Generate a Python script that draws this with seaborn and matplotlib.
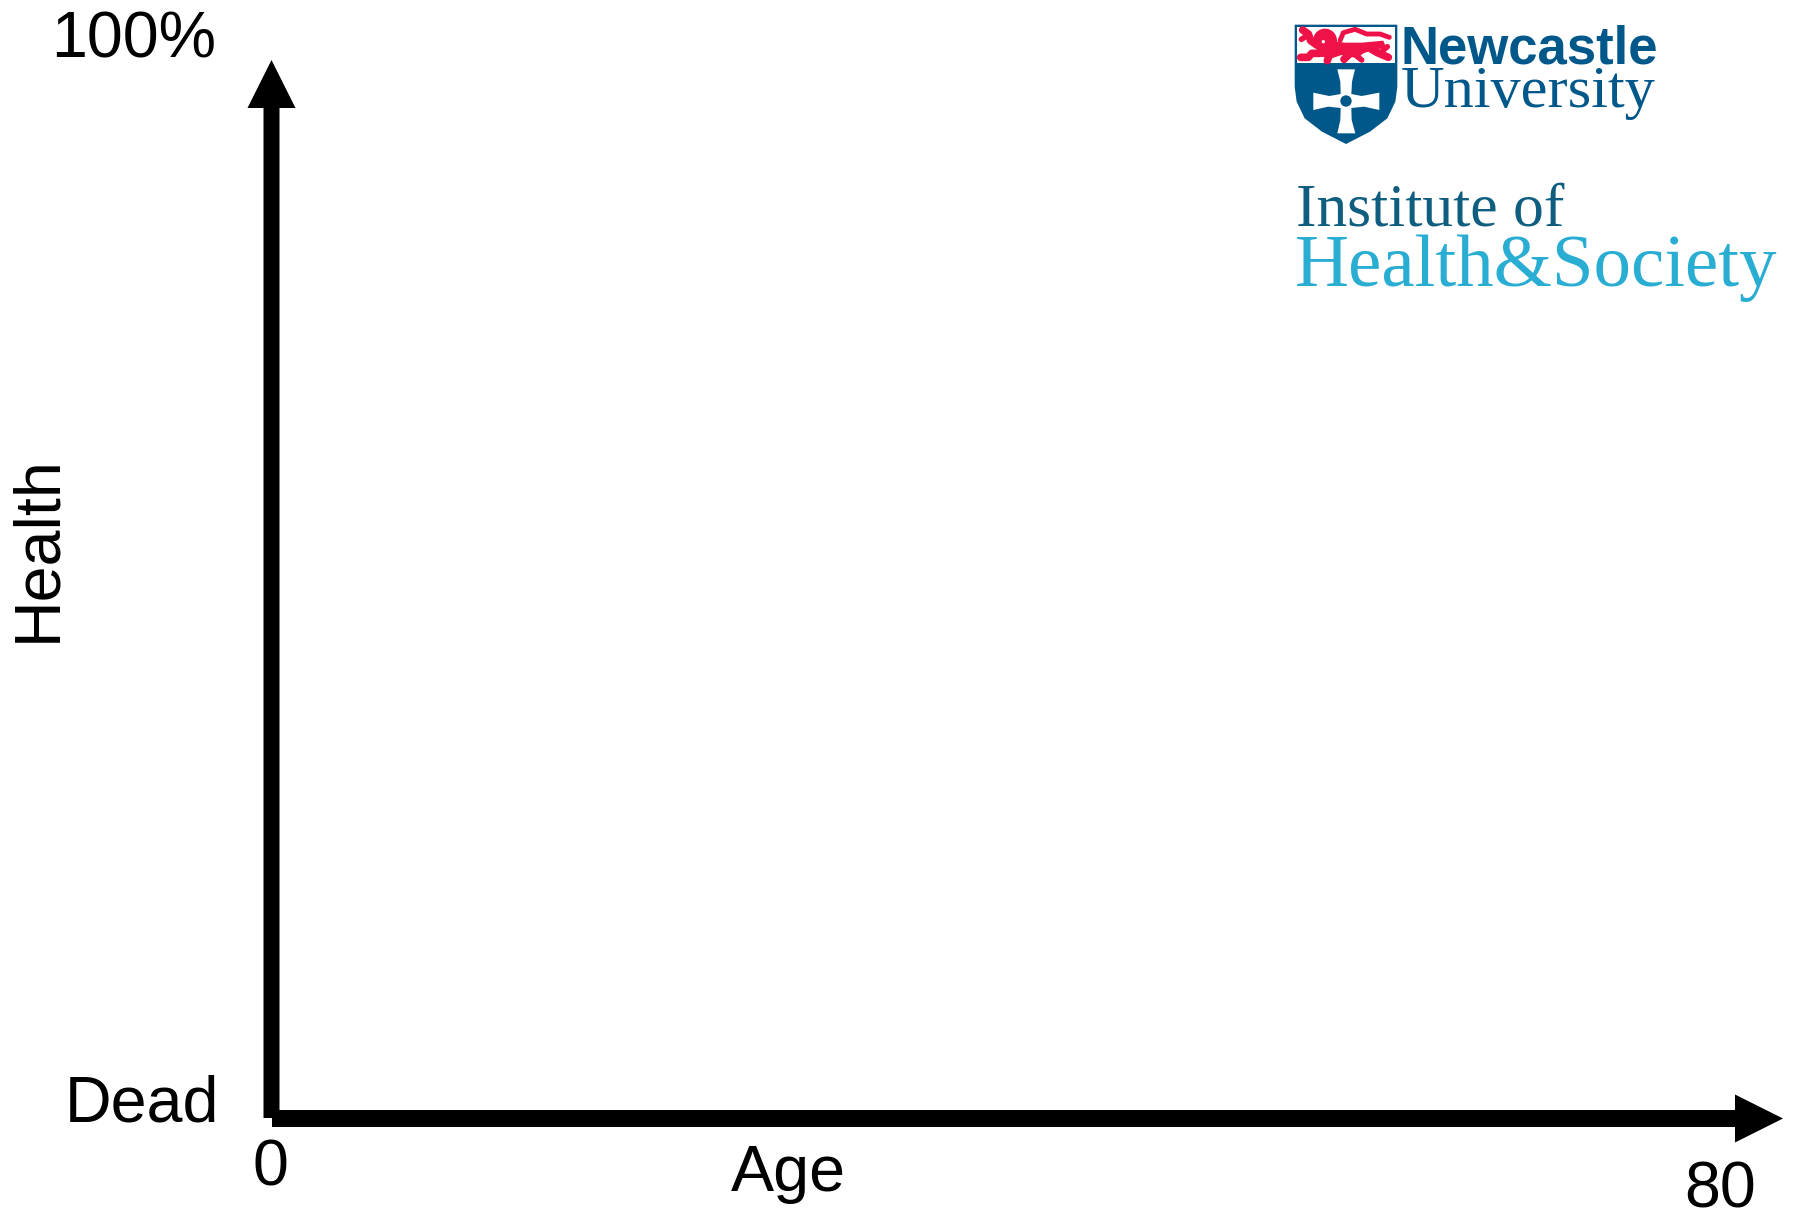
import matplotlib
matplotlib.use('Agg')
import matplotlib.pyplot as plt
from matplotlib.patches import Circle, FancyArrow, Polygon, Rectangle
import seaborn as sns

# Empty axes template: only end labels exist, no series
x_title = 'Age'
y_title = 'Health'
x_labels = ['0', '80']
y_labels = ['Dead', '100%']
logo_top = ['Newcastle', 'University']
logo_bottom = ['Institute of', 'Health&Society']

NAVY = '#00578a'
TEAL = '#0f5e80'
SKY = '#2aadd3'
RED = '#ee1248'

sns.set_theme(style='white')
plt.rcParams['font.family'] = ['Liberation Sans', 'DejaVu Sans']

fig, ax = plt.subplots(figsize=(17.94, 12.09), dpi=100)
ax.set_position([0, 0, 1, 1])
# axes work in reference pixels, y going down
ax.set_xlim(0, 1794)
ax.set_ylim(1209, 0)
ax.axis('off')
sns.despine(ax=ax, left=True, bottom=True)


def crop(points):
    # shield shapes were measured on a 3x crop starting at (1290, 20)
    return [(1290 + px / 3, 20 + py / 3) for px, py in points]


# axis arrows
ax.add_patch(FancyArrow(271.5, 1118, 0, -1058, width=16, head_width=48, head_length=48,
                        length_includes_head=True, color='black', lw=0))
ax.add_patch(FancyArrow(272, 1118.5, 1511, 0, width=17, head_width=48, head_length=48,
                        length_includes_head=True, color='black', lw=0))

# labels
label_size = 46.5
ax.text(134, 58, y_labels[1], fontsize=label_size, ha='center', va='baseline', color='black')
ax.text(142, 1122, y_labels[0], fontsize=label_size, ha='center', va='baseline', color='black')
ax.text(270, 1186, x_labels[0], fontsize=label_size, ha='center', va='baseline', color='black')
ax.text(1720, 1207, x_labels[1], fontsize=label_size, ha='center', va='baseline', color='black')
ax.text(788, 1191, x_title, fontsize=label_size, ha='center', va='baseline', color='black')
ax.text(38, 455, y_title, fontsize=label_size, ha='right', va='center', rotation=90,
        rotation_mode='anchor', color='black')

# shield
shield = [(14, 14), (322, 14), (322, 200), (316, 245), (292, 295), (240, 335), (168, 372),
          (96, 335), (44, 295), (20, 245), (14, 200)]
ax.add_patch(Polygon(crop(shield), closed=True, facecolor=NAVY, lw=0))
white_corner = crop([(20, 20)])[0]
ax.add_patch(Rectangle(white_corner, 296 / 3, 110 / 3, facecolor='white', lw=0))

# lion: head, body, then legs and tail as thick strokes
ax.add_patch(Circle(crop([(105, 62)])[0], 36 / 3, facecolor=RED, lw=0))
lion_body = [(90, 60), (165, 68), (215, 68), (280, 62), (288, 82), (225, 98), (205, 108),
             (155, 105), (125, 115), (80, 108)]
ax.add_patch(Polygon(crop(lion_body), closed=True, facecolor=RED, lw=0))
lion_strokes = [
    ([(80, 75), (62, 62), (55, 42), (38, 30)], 5.5),
    ([(55, 45), (34, 58)], 4),
    ([(90, 100), (65, 100), (55, 112), (32, 112)], 5.5),
    ([(118, 105), (112, 122)], 5.5),
    ([(205, 98), (178, 102), (162, 118)], 5.5),
    ([(190, 100), (215, 120)], 4),
    ([(240, 85), (262, 98), (295, 112)], 5.5),
    ([(275, 95), (292, 80)], 4),
    ([(150, 62), (160, 38), (195, 28), (230, 42), (270, 42), (298, 52)], 3.5),
]
for stroke, width in lion_strokes:
    xs, ys = zip(*crop(stroke))
    ax.plot(xs, ys, color=RED, lw=width, solid_capstyle='round')
ax.add_patch(Circle(crop([(100, 65)])[0], 5 / 3, facecolor='white', lw=0))

# cross with flared arms
cross = [(142, 148), (195, 148), (186, 185), (184, 222), (215, 228), (268, 218), (268, 270),
         (222, 260), (184, 264), (185, 300), (196, 340), (142, 340), (151, 300), (152, 264),
         (115, 260), (70, 270), (70, 218), (118, 228), (152, 222), (151, 185)]
ax.add_patch(Polygon(crop(cross), closed=True, facecolor='white', lw=0))
ax.add_patch(Circle(crop([(168, 243)])[0], 25 / 3, facecolor='white', lw=0))
ax.add_patch(Circle(crop([(168, 243)])[0], 17 / 3, facecolor=NAVY, lw=0))

# logo wording
ax.text(1401, 63, logo_top[0], fontsize=38, fontweight='bold', color=NAVY, va='baseline')
ax.text(1401, 107, logo_top[1], fontsize=43.5, family=['Liberation Serif'], color=NAVY, va='baseline')
ax.text(1296, 225, logo_bottom[0], fontsize=44.4, family=['Liberation Serif'], color=TEAL, va='baseline')
ax.text(1295, 286, logo_bottom[1], fontsize=53.9, family=['Liberation Serif'], color=SKY, va='baseline')

fig.savefig('out.png', dpi=100)
